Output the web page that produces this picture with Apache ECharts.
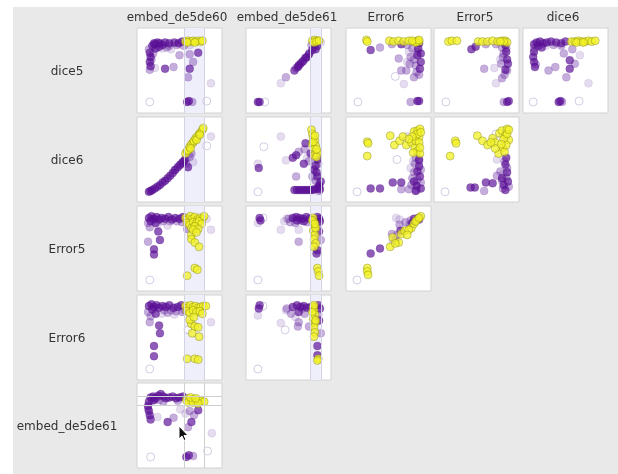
<!DOCTYPE html>
<html>
<head>
<meta charset="utf-8">
<script src="https://cdn.jsdelivr.net/npm/echarts@6/dist/echarts.min.js"></script>
<style>
  html, body { margin: 0; padding: 0; background: #fff; }
  #bg { position: absolute; left: 13px; top: 7px; right: 0; bottom: 0; background: #e9e9e9; }
  #chart { position: absolute; left: 0; top: 0; width: 618px; height: 474px; }
</style>
</head>
<body>
<div id="bg"></div>
<div id="chart"></div>
<script>
// Scatter-plot matrix: each cell lists points as [x, y, kind] on a 0-100 scale.
// kind: 0 = selected (yellow), 1 = dark purple, 2 = mid purple, 3 = faint purple, 4 = hollow
const columnNames = ['embed_de5de60', 'embed_de5de61', 'Error6', 'Error5', 'dice6'];
const rowNames = ['dice5', 'dice6', 'Error5', 'Error6', 'embed_de5de61'];

// brushed ranges
const brush60 = [56, 79];
const brush61Col = [76, 88];
const brush61Row = [74, 85];

const dice5_embed60 = [
  [57,84,0],[60,85,0],[63,84,0],[66,85,0],[69,84,0],[72,85,0],[75,84,0],[77,85,0],[59,83,0],[68,83,0],
  [18,79,1],[21,81,1],[24,83,1],[27,82,1],[30,80,1],[22,76,1],[26,78,1],[33,83,1],[38,82,1],[44,83,1],[49,82,1],[53,84,1],
  [15,71,1],[16,66,1],[15,60,1],[16,55,1],[62,52,1],[72,71,1],[59,13,1],[61,14,1],[33,52,1],[20,82,1],
  [14,75,2],[17,63,2],[15,51,2],[43,54,2],[50,68,2],[62,69,2],[66,60,2],[60,42,2],[65,13,2],[38,79,2],[55,79,2],[47,80,2],[35,77,2],[19,70,2],
  [40,75,3],[21,53,3],[87,35,3],[62,80,3],[30,76,3],
  [15,13,4],[82,14,4]
];
const dice5_embed61 = [
  [78,85,0],[81,86,0],[84,85,0],[80,83,0],[83,84,0],[86,85,0],
  [82,75,1],[84,79,1],[57,50,1],[61,54,1],[64,58,1],[67,61,1],[70,65,1],[74,69,1],[78,74,1],[14,13,1],[16,13,1],[62,56,1],[72,66,1],
  [77,80,2],[47,42,2],[59,53,2],[66,60,2],[69,63,2],[75,71,2],[80,77,2],
  [41,35,3],[88,83,3],
  [22,13,4]
];
const dice5_error6 = [
  [24,86,0],[25,84,0],[51,85,0],[56,84,0],[62,85,0],[68,84,0],[74,85,0],[80,84,0],[84,85,0],[86,84,0],[82,83,0],[78,85,0],[86,86,0],
  [29,74,1],[65,81,1],[86,82,1],[88,60,1],[87,52,1],[84,14,1],[86,14,1],[85,76,1],[84,68,1],[88,70,1],
  [40,77,2],[54,81,2],[72,80,2],[62,64,2],[65,50,2],[71,50,2],[80,63,2],[75,58,2],[82,56,2],[86,45,2],[80,42,2],[84,72,2],[76,66,2],[76,13,2],[78,76,2],[83,48,2],
  [68,34,3],[74,72,3],[72,60,3],
  [58,43,4],[14,13,4]
];
const dice5_error5 = [
  [17,84,0],[21,85,0],[27,85,0],[52,84,0],[57,84,0],[63,84,0],[69,85,0],[75,84,0],[80,85,0],[84,85,0],[86,83,0],[82,84,0],[78,84,0],
  [44,75,1],[49,78,1],[84,80,1],[84,51,1],[86,63,1],[86,13,1],[88,14,1],[85,72,1],[87,58,1],
  [61,81,2],[73,81,2],[59,52,2],[80,41,2],[81,66,2],[83,45,2],[79,58,2],[85,76,2],[82,70,2],[80,77,2],[86,50,2],[82,13,2],
  [71,53,3],[73,35,3],[78,63,3],
  [14,13,4]
];
const dice5_dice6 = [
  [57,84,0],[61,84,0],[65,85,0],[69,84,0],[73,84,0],[77,85,0],[81,84,0],[85,85,0],[63,83,0],[71,83,0],
  [13,81,1],[16,83,1],[20,84,1],[24,82,1],[28,83,1],[33,84,1],[39,83,1],[45,82,1],[50,84,1],[18,79,1],[22,77,1],
  [13,72,1],[12,66,1],[13,60,1],[14,54,1],[55,62,1],[55,52,1],[42,13,1],[44,14,1],
  [13,76,2],[15,57,2],[30,50,2],[38,54,2],[61,58,2],[51,42,2],[45,79,2],[36,80,2],[48,70,2],[46,13,2],[58,75,2],
  [67,68,3],[77,35,3],[27,79,3],
  [12,13,4],[66,14,4]
];
const dice6_embed60 = [
  [14,12,1],[16,13,1],[18,14,1],[21,16,1],[24,18,1],[27,20,1],[30,23,1],[33,25,1],[36,28,1],[39,31,1],[42,34,1],[45,38,1],[48,41,1],[51,44,1],[54,47,1],[60,41,1],[56,49,1],
  [44,37,2],[50,43,2],[53,46,2],[57,51,2],[64,57,2],[62,53,2],[58,45,2],
  [57,57,0],[59,60,0],[60,61,0],[62,65,0],[64,68,0],[66,70,0],[67,72,0],[69,75,0],[71,77,0],[73,80,0],[75,82,0],[77,85,0],[78,87,0],[63,63,0],[70,73,0],[74,79,0],
  [66,47,3],[87,77,3],[61,56,3],
  [82,66,4]
];
const dice6_embed61 = [
  [77,85,0],[78,80,0],[79,76,0],[81,72,0],[78,68,0],[82,66,0],[80,62,0],[84,58,0],[80,55,0],[83,53,0],[79,71,0],[81,78,0],[83,62,0],
  [70,69,1],[59,55,1],[68,45,1],[55,52,1],[15,40,1],[80,38,1],[86,20,1],[88,24,1],[82,43,1],[84,30,1],[84,50,1],[86,18,1],
  [57,14,1],[60,14,1],[63,14,1],[66,14,1],[69,14,1],[72,14,1],[75,14,1],[78,14,1],[81,15,1],[84,16,1],[87,15,1],[76,57,1],[83,35,1],
  [69,62,2],[62,59,2],[59,30,2],[78,30,2],[82,25,2],[85,45,2],[74,48,2],[86,13,2],
  [72,52,3],[47,49,3],[41,77,3],[14,45,3],
  [21,65,4],[14,12,4]
];
const dice6_error6 = [
  [25,71,0],[26,69,0],[25,54,0],[52,78,0],[57,67,0],[63,72,0],[67,77,0],[71,67,0],[77,70,0],[80,83,0],[84,84,0],[87,86,0],
  [86,76,0],[81,64,0],[84,60,0],[87,57,0],[79,58,0],[82,72,0],[86,70,0],[84,80,0],[88,82,0],[78,77,0],[74,74,0],[87,64,0],
  [86,42,1],[83,19,1],[87,30,1],[88,16,1],[55,23,1],[65,23,1],[40,16,1],[29,16,1],[84,36,1],[80,24,1],[86,50,1],[82,13,1],
  [82,52,2],[86,48,2],[80,35,2],[78,28,2],[74,15,2],[65,15,2],[84,26,2],[81,45,2],[88,38,2],[77,20,2],[83,14,2],[88,23,2],
  [72,77,3],[76,40,3],[79,48,3],
  [60,50,4],[13,12,4]
];
const dice6_error5 = [
  [25,72,0],[26,69,0],[19,54,0],[51,78,0],[57,72,0],[63,67,0],[69,75,0],[72,70,0],[77,81,0],[80,84,0],[86,86,0],[84,78,0],
  [81,64,0],[76,57,0],[83,59,0],[88,73,0],[82,74,0],[72,63,0],[67,70,0],[86,80,0],[88,85,0],[85,67,0],[79,68,0],
  [61,23,1],[69,22,1],[48,17,1],[43,17,1],[84,44,1],[82,20,1],[86,35,1],[87,24,1],[84,14,1],[80,28,1],[85,52,1],
  [74,31,2],[59,13,2],[86,40,2],[80,25,2],[88,18,2],[83,48,2],[78,36,2],[85,29,2],[81,16,2],
  [74,50,3],[82,33,3],
  [73,80,4],[13,12,4]
];
const error5_error6 = [
  [25,27,0],[25,23,0],[26,19,0],[52,52,0],[55,63,0],[62,57,0],[65,67,0],[69,71,0],[77,74,0],[80,79,0],[84,84,0],[88,88,0],[74,72,0],[72,66,0],[82,82,0],[86,86,0],[58,56,0],
  [29,44,1],[40,50,1],[64,71,1],[85,86,1],[80,85,1],[78,80,1],[86,84,1],
  [54,67,2],[63,78,2],[75,78,2],[70,81,2],[76,83,2],[58,59,2],[60,66,2],
  [63,84,3],[59,86,3],[55,59,3],
  [13,13,4]
];
const error5_embed60 = [
  [57,86,0],[60,84,0],[63,88,0],[65,85,0],[68,87,0],[71,84,0],[74,86,0],[77,85,0],[59,80,0],[62,78,0],[66,81,0],[70,80,0],[73,82,0],[76,79,0],
  [64,74,0],[68,76,0],[72,73,0],[64,66,0],[66,72,0],[70,69,0],[64,61,0],[68,57,0],[73,52,0],[68,27,0],[71,25,0],[59,18,0],[79,88,0],
  [14,86,1],[17,88,1],[20,85,1],[23,87,1],[26,84,1],[29,86,1],[33,85,1],[37,87,1],[41,84,1],[45,86,1],[50,85,1],[16,82,1],[22,80,1],[25,70,1],[27,60,1],[20,49,1],[20,43,1],[54,87,1],
  [13,80,2],[19,84,2],[31,82,2],[13,58,2],[39,82,2],[47,82,2],[53,81,2],[15,75,2],[59,73,2],
  [87,72,3],[36,77,3],[24,78,3],[82,85,3],
  [15,13,4]
];
const error5_embed61 = [
  [79,86,0],[80,81,0],[81,76,0],[79,71,0],[81,66,0],[80,61,0],[82,56,0],[80,52,0],[84,27,0],[85,23,0],[86,18,0],[78,83,0],[82,74,0],[81,79,0],
  [16,86,1],[17,83,1],[86,70,1],[84,48,1],[83,44,1],[55,86,1],[59,87,1],[63,86,1],[67,85,1],[71,87,1],[75,85,1],[84,87,1],[86,85,1],[87,82,1],[60,83,1],[68,82,1],
  [62,58,2],[88,60,2],[50,85,2],[58,80,2],[64,83,2],[72,81,2],[85,79,2],[52,81,2],
  [14,80,3],[45,82,3],[41,72,3],[62,72,3],[48,85,3],
  [20,86,4],[14,13,4]
];
const error6_embed60 = [
  [57,87,0],[60,85,0],[63,88,0],[66,86,0],[69,87,0],[72,85,0],[75,86,0],[78,87,0],[59,81,0],[62,79,0],[66,82,0],[70,80,0],[74,81,0],[77,78,0],
  [64,66,0],[62,71,0],[68,63,0],[72,62,0],[65,55,0],[73,51,0],[59,25,0],[68,25,0],[72,24,0],[67,74,0],[81,87,0],
  [14,87,1],[17,89,1],[20,86,1],[23,88,1],[26,85,1],[30,87,1],[34,86,1],[38,88,1],[43,85,1],[48,86,1],[52,88,1],[18,83,1],[26,64,1],[27,55,1],[20,40,1],[20,28,1],[22,78,1],
  [15,68,2],[13,80,2],[16,75,2],[32,82,2],[40,82,2],[46,81,2],[53,80,2],[36,79,2],[56,82,2],
  [87,68,3],[29,78,3],[44,77,3],
  [60,59,4],[15,13,4]
];
const error6_embed61 = [
  [79,86,0],[80,82,0],[81,77,0],[79,72,0],[81,67,0],[80,62,0],[81,56,0],[80,51,0],[85,25,0],[84,23,0],[78,80,0],[82,70,0],[80,88,0],
  [16,88,1],[15,84,1],[55,86,1],[60,88,1],[64,86,1],[68,87,1],[72,85,1],[76,86,1],[85,88,1],[87,84,1],[86,70,1],[84,40,1],[84,29,1],[62,80,1],
  [48,84,2],[53,78,2],[62,68,2],[61,63,2],[74,63,2],[69,78,2],[88,55,2],[66,84,2],[85,77,2],
  [14,76,3],[47,82,3],[41,67,3],[58,74,3],
  [20,87,4],[46,59,4],[14,13,4]
];
const embed61_embed60 = [
  [58,80,0],[61,82,0],[64,79,0],[67,81,0],[70,78,0],[73,80,0],[76,79,0],[79,78,0],[60,77,0],[66,77,0],[72,76,0],[63,83,0],[69,82,0],
  [28,87,1],[16,83,1],[19,84,1],[22,82,1],[25,85,1],[31,84,1],[34,82,1],[38,83,1],[42,84,1],[46,82,1],[50,83,1],[54,84,1],
  [14,78,1],[13,73,1],[14,67,1],[15,62,1],[16,57,1],[36,54,1],[64,54,1],[72,68,1],[58,13,1],[61,15,1],[20,80,1],
  [18,79,2],[26,80,2],[31,78,2],[43,59,2],[62,67,2],[67,62,2],[60,48,2],[66,14,2],[13,70,2],[48,79,2],
  [24,60,3],[51,69,3],[88,41,3],[57,64,3],
  [83,20,4],[16,13,4]
];

// cells: [row, col, points]
const cells = [
  [0, 0, dice5_embed60], [0, 1, dice5_embed61], [0, 2, dice5_error6], [0, 3, dice5_error5], [0, 4, dice5_dice6],
  [1, 0, dice6_embed60], [1, 1, dice6_embed61], [1, 2, dice6_error6], [1, 3, dice6_error5],
  [2, 0, error5_embed60], [2, 1, error5_embed61], [2, 2, error5_error6],
  [3, 0, error6_embed60], [3, 1, error6_embed61],
  [4, 0, embed61_embed60]
];

// layout of the matrix in pixels
const colLeft = [137, 246, 346, 434, 523];
const colCenter = [177, 287, 386, 475, 563];
const rowTop = [28, 117, 206, 295, 383];
const cellW = 85, cellH = 85;
const labelX = 67;

const kindStyle = [
  { color: 'rgba(242,242,38,0.95)', borderColor: 'rgba(110,110,20,0.75)', borderWidth: 0.6 },
  { color: 'rgba(92,16,152,0.85)', borderColor: 'rgba(70,10,120,0.5)', borderWidth: 0.5 },
  { color: 'rgba(112,52,168,0.5)', borderColor: 'rgba(100,40,160,0.35)', borderWidth: 0.5 },
  { color: 'rgba(125,85,175,0.25)', borderColor: 'rgba(125,85,175,0.3)', borderWidth: 0.5 },
  { color: 'rgba(255,255,255,0.7)', borderColor: 'rgba(175,165,205,0.7)', borderWidth: 1 }
];

const grids = [], xAxes = [], yAxes = [], series = [];
const bandLine = { color: '#d3d3e3', type: 'solid', width: 1 };

cells.forEach(([r, c, pts], i) => {
  grids.push({
    left: colLeft[c], top: rowTop[r], width: cellW, height: cellH,
    show: true, backgroundColor: '#fff', borderColor: '#d2d2d2', borderWidth: 1
  });
  xAxes.push({ gridIndex: i, type: 'value', min: 0, max: 100, show: false });
  yAxes.push({ gridIndex: i, type: 'value', min: 0, max: 100, show: false });

  const sorted = pts.slice().sort((a, b) => b[2] - a[2]);
  const s = {
    type: 'scatter', xAxisIndex: i, yAxisIndex: i, symbolSize: 8, silent: true,
    data: sorted.map(p => ({ value: [p[0], p[1]], itemStyle: kindStyle[p[2]] }))
  };
  const band = r < 4 ? (c === 0 ? brush60 : c === 1 ? brush61Col : null) : null;
  if (band) {
    s.markArea = { silent: true, itemStyle: { color: '#efeffc' }, data: [[{ xAxis: band[0] }, { xAxis: band[1] }]] };
    s.markLine = { silent: true, symbol: ['none', 'none'], label: { show: false }, lineStyle: bandLine,
      data: [{ xAxis: band[0] }, { xAxis: band[1] }] };
  }
  if (r === 4 && c === 0) {
    s.markLine = { silent: true, symbol: ['none', 'none'], label: { show: false }, lineStyle: { color: '#cfcfcf', type: 'solid', width: 1 },
      data: [{ xAxis: brush60[0] }, { xAxis: brush60[1] }, { yAxis: brush61Row[0] }, { yAxis: brush61Row[1] }] };
  }
  series.push(s);
});

const font = '12px "DejaVu Sans", sans-serif';
const texts = [];
columnNames.forEach((n, c) => texts.push({
  type: 'text', style: { text: n, x: colCenter[c], y: 18, textAlign: 'center', textVerticalAlign: 'middle', font, fill: '#333' }
}));
rowNames.forEach((n, r) => texts.push({
  type: 'text', style: { text: n, x: labelX, y: rowTop[r] + 44, textAlign: 'center', textVerticalAlign: 'middle', font, fill: '#333' }
}));
// mouse pointer resting on the bottom cell
texts.push({
  type: 'polygon', x: 179, y: 426, z: 100,
  shape: { points: [[0, 0], [0, 13], [3, 10], [5, 14.5], [7, 13.5], [5, 9.5], [9, 9.5]] },
  style: { fill: '#111', stroke: '#fff', lineWidth: 1 }
});

const chart = echarts.init(document.getElementById('chart'), null, { renderer: 'canvas' });
chart.setOption({
  animation: false,
  grid: grids, xAxis: xAxes, yAxis: yAxes, series,
  graphic: texts
});
</script>
</body>
</html>
